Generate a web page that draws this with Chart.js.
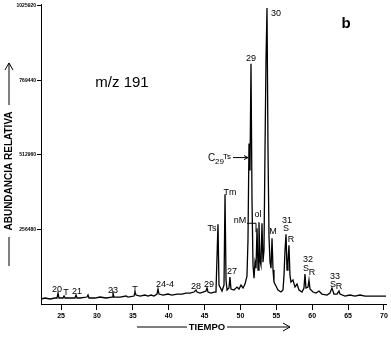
<!DOCTYPE html>
<html>
<head>
<meta charset="utf-8">
<script src="https://cdn.jsdelivr.net/npm/chart.js@4/dist/chart.umd.min.js"></script>
<style>
  html, body { margin: 0; padding: 0; background: #fff; }
  #wrap { width: 391px; height: 337px; }
</style>
</head>
<body>
<div id="wrap"><canvas id="chrom" width="391" height="337"></canvas></div>
<script>
const retentionTime = [
  22.21, 22.77, 23.47, 24.16, 24.44, 24.58, 24.72, 25.28, 25.42, 25.56,
  26.25, 26.95, 27.09, 27.23, 27.65, 28.62, 28.76, 28.90, 29.74, 30.43,
  31.27, 32.11, 32.24, 32.38, 33.22, 34.06, 34.33, 35.17, 35.31, 35.45,
  36.01, 36.70, 37.12, 37.54, 37.96, 38.37, 38.51, 38.65, 39.21, 39.91,
  40.46, 41.16, 41.86, 42.41, 42.97, 43.53, 43.81, 43.95, 44.36, 44.78,
  45.20, 45.34, 45.48, 45.90, 46.32, 46.59, 46.87, 47.01, 47.43, 47.71,
  47.85, 47.99, 48.13, 48.40, 48.54, 48.68, 49.10, 49.52, 49.80, 50.08,
  50.36, 50.63, 50.91, 51.05, 51.19, 51.33, 51.47, 51.61, 51.75, 51.89,
  52.03, 52.17, 52.31, 52.45, 52.58, 52.72, 52.86, 53.00, 53.14, 53.28,
  53.42, 53.56, 53.70, 53.84, 53.98, 54.12, 54.26, 54.40, 54.54, 54.67,
  54.95, 55.23, 55.65, 55.93, 56.07, 56.21, 56.35, 56.49, 56.62, 56.76,
  56.90, 57.04, 57.32, 57.60, 57.88, 58.16, 58.57, 58.85, 58.99, 59.13,
  59.41, 59.55, 59.69, 60.11, 60.53, 60.94, 61.36, 62.06, 62.47, 62.75,
  63.03, 63.45, 63.73, 63.87, 64.57, 65.26, 65.96, 66.66, 67.35, 68.33,
  69.44, 70.28
];
const abundance = [
  17200, 20600, 17200, 20600, 20600, 37700, 20600, 20600, 27400, 20600,
  20600, 20600, 30900, 20600, 20600, 24000, 30900, 20600, 20600, 24000,
  20600, 24000, 37700, 24000, 24000, 27400, 24000, 27400, 41200, 30900,
  27400, 30900, 27400, 30900, 27400, 34300, 51500, 34300, 30900, 34300,
  30900, 34300, 34300, 37700, 37700, 41200, 48000, 41200, 37700, 41200,
  44600, 54900, 41200, 37700, 41200, 41200, 274500, 65200, 44600, 65200,
  377400, 82300, 48000, 54900, 92600, 51500, 48000, 58300, 51500, 65200,
  54900, 68600, 96100, 219600, 552400, 459800, 826900, 356800, 133800, 89200,
  144100, 123500, 260800, 116700, 281300, 151000, 133800, 277900, 144100, 185300,
  528400, 837200, 1019000, 528400, 229900, 144100, 123500, 226500, 116700, 75500,
  61800, 48000, 41200, 48000, 99500, 185300, 240200, 116700, 144100, 202400,
  99500, 75500, 82300, 58300, 68600, 48000, 41200, 54900, 102900, 54900,
  58300, 82300, 51500, 41200, 37700, 44600, 34300, 30900, 37700, 54900,
  34300, 34300, 44600, 34300, 27400, 30900, 27400, 30900, 27400, 27400,
  27400, 27400
];

const xTickValues = [25, 30, 35, 40, 45, 50, 55, 60, 65, 70];
const xTickLabels = ['25', '30', '35', '40', '45', '50', '55', '60', '65', '70'];
const yTickValues = [256480, 512960, 769440, 1025920];
const yTickLabels = ['256480', '512960', '769440', '1025920'];

// identificación de picos (texto, tiempo, abundancia donde va el texto)
const peakLabelText  = ['20', 'T', '21', '23', 'T', '24-4', '28', '29', 'Ts', 'Tm', '27', 'ol', 'M', '29', '30', '31', 'S', 'R', '32', 'S', 'R', '33', 'S', 'R'];
const peakLabelTime  = [24.44, 25.70, 27.23, 32.24, 35.31, 39.49, 43.81, 45.62, 46.04, 48.54, 48.82, 52.45, 54.54, 51.47, 54.95, 56.49, 56.35, 57.04, 59.41, 59.13, 59.97, 63.17, 62.89, 63.73];
const peakLabelValue = [51500, 41200, 44600, 48000, 51500, 68600, 61800, 68600, 260800, 384300, 113200, 308800, 250500, 844000, 998400, 288200, 259000, 223000, 154400, 123500, 109800, 96100, 68600, 61800];

const annotations = {
  id: 'annotations',
  afterDraw(chart) {
    const ctx = chart.ctx;
    const xs = chart.scales.x, ys = chart.scales.y;
    ctx.save();
    ctx.fillStyle = '#000';
    ctx.strokeStyle = '#000';
    ctx.textAlign = 'center';
    ctx.textBaseline = 'middle';

    ctx.font = '9px "Liberation Sans", Arial, sans-serif';
    peakLabelText.forEach((txt, i) => {
      ctx.fillText(txt, xs.getPixelForValue(peakLabelTime[i]), ys.getPixelForValue(peakLabelValue[i]));
    });

    // nM con su línea de referencia
    const nmX = xs.getPixelForValue(49.94), nmY = ys.getPixelForValue(288200);
    ctx.fillText('nM', nmX, nmY);
    const tgtX = xs.getPixelForValue(52.17);
    ctx.lineWidth = 1;
    ctx.beginPath();
    ctx.moveTo(nmX + 7, nmY + 3);
    ctx.lineTo(tgtX, nmY + 3);
    ctx.lineTo(tgtX, nmY + 12);
    ctx.stroke();

    // C29Ts con flecha
    const cY = ys.getPixelForValue(504000);
    const arrowEnd = xs.getPixelForValue(51.19);
    ctx.textAlign = 'left';
    ctx.font = '10px "Liberation Sans", Arial, sans-serif';
    ctx.fillText('C', arrowEnd - 41, cY + 1);
    ctx.font = '8px "Liberation Sans", Arial, sans-serif';
    ctx.fillText('29', arrowEnd - 34, cY + 4);
    ctx.fillText('Ts', arrowEnd - 26, cY - 1);
    ctx.beginPath();
    ctx.moveTo(arrowEnd - 16, cY);
    ctx.lineTo(arrowEnd - 1, cY);
    ctx.stroke();
    ctx.beginPath();
    ctx.moveTo(arrowEnd - 5, cY - 2);
    ctx.lineTo(arrowEnd - 1, cY);
    ctx.lineTo(arrowEnd - 5, cY + 2);
    ctx.stroke();

    // m/z y letra del panel
    ctx.textAlign = 'center';
    ctx.font = '15px "Liberation Sans", Arial, sans-serif';
    ctx.fillText('m/z 191', 122, 83);
    ctx.font = 'bold 15px "Liberation Sans", Arial, sans-serif';
    ctx.fillText('b', 346, 24);

    // título eje X con flecha
    ctx.font = 'bold 9.5px "Liberation Sans", Arial, sans-serif';
    ctx.fillText('TIEMPO', 207, 327);
    ctx.beginPath();
    ctx.moveTo(137, 327); ctx.lineTo(187, 327);
    ctx.moveTo(227, 327); ctx.lineTo(290, 327);
    ctx.moveTo(283, 323); ctx.lineTo(290, 327); ctx.lineTo(283, 331);
    ctx.stroke();

    // título eje Y con flecha
    ctx.save();
    ctx.translate(9, 171);
    ctx.rotate(-Math.PI / 2);
    ctx.font = 'bold 10px "Liberation Sans", Arial, sans-serif';
    ctx.fillText('ABUNDANCIA RELATIVA', 0, 0);
    ctx.restore();
    ctx.beginPath();
    ctx.moveTo(9, 237); ctx.lineTo(9, 266);
    ctx.moveTo(9, 105); ctx.lineTo(9, 63);
    ctx.moveTo(5, 70); ctx.lineTo(9, 63); ctx.lineTo(13, 70);
    ctx.stroke();
    ctx.restore();
  }
};

new Chart(document.getElementById('chrom'), {
  type: 'line',
  data: {
    datasets: [{
      data: retentionTime.map((t, i) => ({ x: t, y: abundance[i] })),
      borderColor: '#000',
      borderWidth: 1.3,
      pointRadius: 0,
      tension: 0,
      fill: false
    }]
  },
  options: {
    responsive: false,
    animation: false,
    layout: { padding: { top: 3, right: 5, left: 0, bottom: 0 } },
    plugins: { legend: { display: false }, tooltip: { enabled: false } },
    scales: {
      x: {
        type: 'linear',
        min: 22.21,
        max: 70.28,
        afterBuildTicks: (s) => { s.ticks = xTickValues.map(v => ({ value: v })); },
        afterFit: (s) => { s.height = 33; },
        ticks: {
          autoSkip: false,
          maxRotation: 0,
          color: '#000',
          padding: 2,
          font: { family: '"Liberation Sans", Arial, sans-serif', size: 7, weight: 'bold' },
          callback: (v) => xTickLabels[xTickValues.indexOf(v)]
        },
        grid: { drawOnChartArea: false, drawTicks: true, tickLength: 6, color: '#000' },
        border: { display: true, color: '#000', width: 1 }
      },
      y: {
        min: 0,
        max: 1032700,
        afterBuildTicks: (s) => { s.ticks = yTickValues.map(v => ({ value: v })); },
        afterFit: (s) => { s.width = 41; },
        ticks: {
          autoSkip: false,
          color: '#000',
          padding: 1,
          font: { family: '"Liberation Sans", Arial, sans-serif', size: 5, weight: 'bold' },
          callback: (v) => yTickLabels[yTickValues.indexOf(v)]
        },
        grid: { drawOnChartArea: false, drawTicks: true, tickLength: 4, color: '#000' },
        border: { display: true, color: '#000', width: 1 }
      }
    }
  },
  plugins: [annotations]
});
</script>
</body>
</html>
